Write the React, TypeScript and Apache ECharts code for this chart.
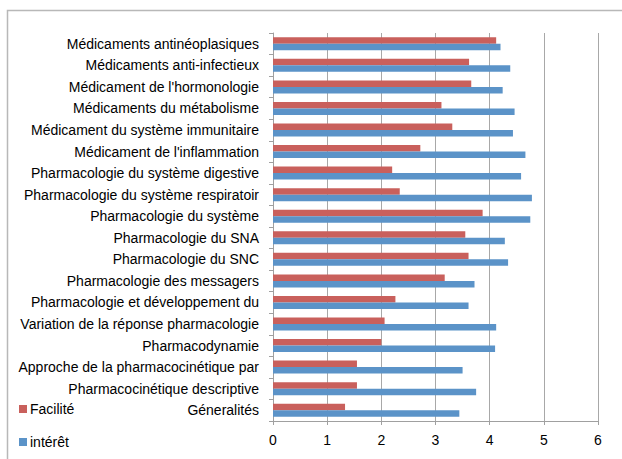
import React, { useEffect, useRef } from "react";
import * as echarts from "echarts";

const categories = [
  "Médicaments antinéoplasiques",
  "Médicaments anti-infectieux",
  "Médicament de l'hormonologie",
  "Médicaments du métabolisme",
  "Médicament du système immunitaire",
  "Médicament de l'inflammation",
  "Pharmacologie du système digestive",
  "Pharmacologie du système respiratoir",
  "Pharmacologie du système",
  "Pharmacologie du SNA",
  "Pharmacologie du SNC",
  "Pharmacologie des messagers",
  "Pharmacologie et développement du",
  "Variation de la réponse pharmacologie",
  "Pharmacodynamie",
  "Approche de la pharmacocinétique par",
  "Pharmacocinétique descriptive",
  "Géneralités",
];

const facilite = [4.12, 3.62, 3.66, 3.11, 3.31, 2.72, 2.2, 2.34, 3.87, 3.55, 3.61, 3.17, 2.26, 2.06, 2.0, 1.55, 1.55, 1.33];
const interet = [4.2, 4.38, 4.24, 4.46, 4.43, 4.66, 4.58, 4.78, 4.75, 4.28, 4.34, 3.72, 3.61, 4.12, 4.1, 3.5, 3.75, 3.44];

const xTicks = [0, 1, 2, 3, 4, 5, 6];

const FONT = "Liberation Sans";

export default function App() {
  const ref = useRef<HTMLDivElement>(null);
  useEffect(() => {
    document.body.style.margin = "0";
    const chart = echarts.init(ref.current!, null, { renderer: "svg" });
    chart.setOption({
      animation: false,
      backgroundColor: "#ffffff",
      textStyle: { fontFamily: FONT },
      graphic: [
        {
          type: "rect",
          shape: { x: 7.5, y: 10.5, width: 700, height: 500 },
          style: { fill: "none", stroke: "#b8b8b8", lineWidth: 1.5 },
          silent: true,
        },
      ],
      grid: { left: 273, right: 24, top: 33, bottom: 38, containLabel: false },
      legend: {
        orient: "vertical",
        left: 14,
        top: 397,
        itemWidth: 8,
        itemHeight: 8,
        itemGap: 19,
        icon: "rect",
        textStyle: { fontFamily: FONT, fontSize: 14, color: "#000", padding: [0, 0, 0, -2] },
        data: ["Facilité", "intérêt"],
      },
      xAxis: {
        type: "value",
        min: xTicks[0],
        max: xTicks[xTicks.length - 1],
        interval: 1,
        axisLine: { show: true, lineStyle: { color: "#a0a0a0", width: 1 } },
        axisTick: { show: true, length: 4, lineStyle: { color: "#a0a0a0" } },
        axisLabel: { fontFamily: FONT, fontSize: 14, color: "#000", margin: 12 },
        splitLine: { show: true, lineStyle: { color: "#a8a8a8", width: 1 } },
      },
      yAxis: {
        type: "category",
        inverse: true,
        data: categories,
        axisLine: { show: true, lineStyle: { color: "#a0a0a0", width: 1 } },
        axisTick: { show: true, length: 4, lineStyle: { color: "#a0a0a0" } },
        axisLabel: { fontFamily: FONT, fontSize: 14, color: "#000", margin: 14 },
      },
      series: [
        {
          name: "Facilité",
          type: "bar",
          data: facilite,
          barWidth: 6.5,
          barGap: "0%",
          itemStyle: { color: "#c9605c" },
        },
        {
          name: "intérêt",
          type: "bar",
          data: interet,
          barWidth: 6.5,
          barGap: "0%",
          itemStyle: { color: "#5b93c8" },
        },
      ],
    });
    return () => chart.dispose();
  }, []);
  return <div ref={ref} style={{ width: 622, height: 459 }} />;
}
